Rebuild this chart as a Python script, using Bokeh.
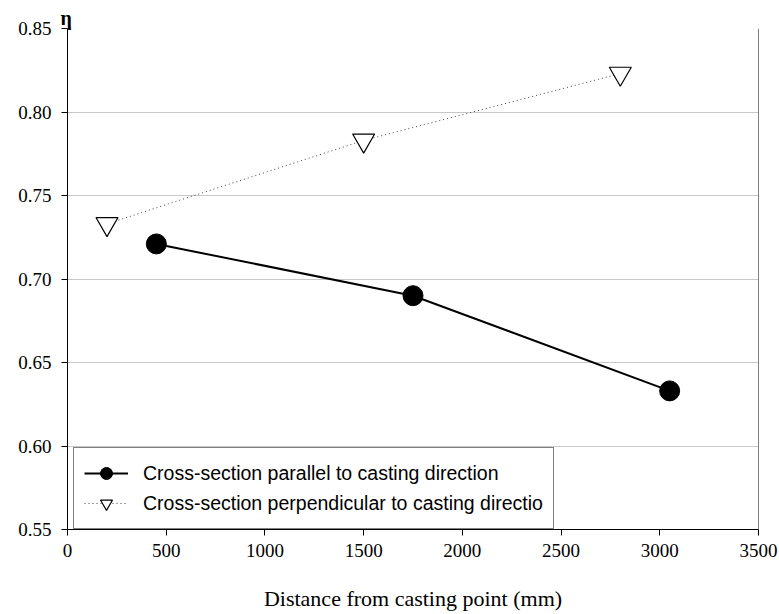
from bokeh.plotting import figure
from bokeh.models import Range1d, Span, Legend, LegendItem, FixedTicker, NumeralTickFormatter
from bokeh.embed import file_html
from bokeh.resources import INLINE

# Data
x_parallel = [450, 1750, 3050]
eta_parallel = [0.721, 0.690, 0.633]
x_perpendicular = [200, 1500, 2800]
eta_perpendicular = [0.733, 0.783, 0.823]

x_ticks = [0, 500, 1000, 1500, 2000, 2500, 3000, 3500]
y_ticks = [0.55, 0.60, 0.65, 0.70, 0.75, 0.80, 0.85]

label_parallel = "Cross-section parallel to casting direction"
label_perpendicular = "Cross-section perpendicular to casting directio"
x_title = "Distance from casting point (mm)"
y_title = "η"

SERIF = "Liberation Serif"
SANS = "Liberation Sans"

p = figure(width=779, height=614, output_backend="svg", toolbar_location=None,
           x_range=Range1d(0, 3500), y_range=Range1d(0.55, 0.85),
           min_border_left=67, min_border_right=21, min_border_top=28, min_border_bottom=85)

p.background_fill_color = "white"
p.border_fill_color = "white"
p.outline_line_color = None

# y-axis title placed at the top-left corner, as in the reference
p.title.text = y_title
p.title.align = "left"
p.title.offset = -7
p.title.standoff = 0
p.title.text_font = SERIF
p.title.text_font_size = "20px"
p.title.text_font_style = "bold"
p.title.text_color = "black"

p.xaxis.ticker = FixedTicker(ticks=x_ticks)
p.yaxis.ticker = FixedTicker(ticks=y_ticks)
p.yaxis.formatter = NumeralTickFormatter(format="0.00")

for ax in (p.xaxis[0], p.yaxis[0]):
    ax.axis_line_color = "black"
    ax.axis_line_width = 1
    ax.major_tick_line_color = "black"
    ax.major_tick_in = 0
    ax.major_tick_out = 6
    ax.minor_tick_line_color = None
    ax.major_label_text_font = SERIF
    ax.major_label_text_font_size = "19px"
    ax.major_label_text_color = "black"

p.yaxis.major_label_standoff = 10
p.xaxis.major_label_standoff = 8
p.xaxis.axis_label = x_title
p.xaxis.axis_label_text_font = SERIF
p.xaxis.axis_label_text_font_size = "22px"
p.xaxis.axis_label_text_font_style = "normal"
p.xaxis.axis_label_text_color = "black"
p.xaxis.axis_label_standoff = 26

p.xgrid.grid_line_color = None
p.ygrid.grid_line_color = "#c8c8c8"
p.ygrid.grid_line_width = 1

p.add_layout(Span(location=3500, dimension="height", line_color="black", line_width=1))

l1 = p.line(x_parallel, eta_parallel, line_color="black", line_width=2)
s1 = p.scatter(x_parallel, eta_parallel, marker="circle", size=20,
               fill_color="black", line_color="black")

l2 = p.line(x_perpendicular, eta_perpendicular, line_color="#444444", line_width=1,
            line_dash="1 3")
s2 = p.scatter(x_perpendicular, eta_perpendicular, marker="inverted_triangle", size=22,
               fill_color="white", line_color="black", line_width=1.2)

legend = Legend(items=[LegendItem(label=label_parallel, renderers=[l1, s1]),
                       LegendItem(label=label_perpendicular, renderers=[l2, s2])],
                location=(6, 0))
legend.border_line_color = "black"
legend.border_line_width = 1
legend.background_fill_color = "white"
legend.background_fill_alpha = 1
legend.label_text_font = SANS
legend.label_text_font_size = "19.5px"
legend.label_text_color = "black"
legend.glyph_width = 44
legend.glyph_height = 30
legend.label_height = 30
legend.padding = 10
legend.spacing = 0
legend.margin = 0
legend.label_standoff = 15
p.add_layout(legend)

open("out.html", "w").write(file_html(p, INLINE))
